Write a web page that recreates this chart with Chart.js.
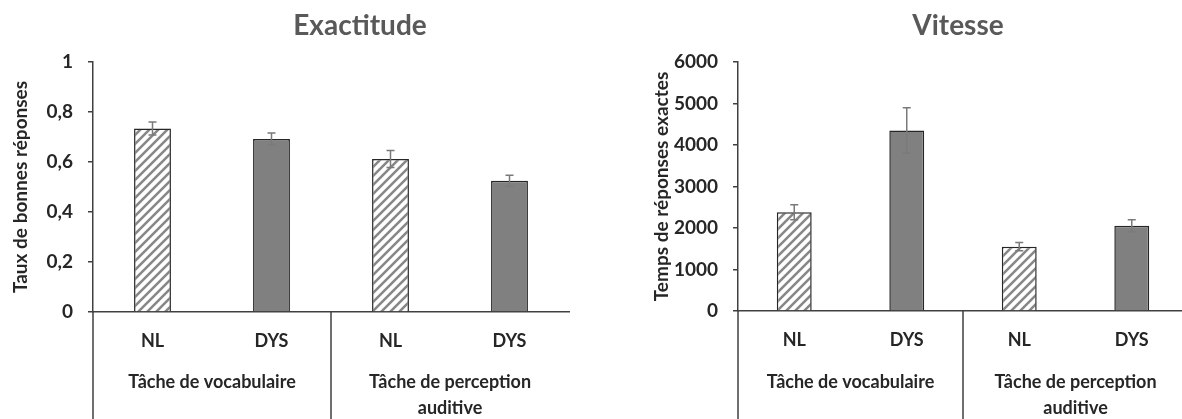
<!DOCTYPE html>
<html lang="fr">
<head>
<meta charset="utf-8">
<title>Exactitude et vitesse</title>
<script src="https://cdn.jsdelivr.net/npm/chart.js@4.4.1/dist/chart.umd.min.js"></script>
<style>
  html, body { margin: 0; padding: 0; background: #fff; overflow: hidden; }
  body { width: 1182px; height: 419px; position: relative; }
  .panel { position: absolute; top: 0; height: 419px; }
  #panel-acc { left: 0; width: 620px; }
  #panel-speed { left: 620px; width: 570px; }
</style>
</head>
<body>
<div class="panel" id="panel-acc"><canvas id="acc-chart"></canvas></div>
<div class="panel" id="panel-speed"><canvas id="speed-chart"></canvas></div>
<script>
/* ── data ─────────────────────────────────────────────── */
const groups = ['NL', 'DYS', 'NL', 'DYS'];
const tasks = [['Tâche de vocabulaire'], ['Tâche de perception', 'auditive']];

const accTitle = 'Exactitude';
const accAxisTitle = 'Taux de bonnes réponses';
const accValues = [0.734, 0.692, 0.612, 0.525];
const accErrors = [0.026, 0.024, 0.034, 0.022];
const accTicks = ['0', '0,2', '0,4', '0,6', '0,8', '1'];

const speedTitle = 'Vitesse';
const speedAxisTitle = 'Temps de réponses exactes';
const speedValues = [2380, 4350, 1550, 2055];
const speedErrors = [180, 550, 100, 145];
const speedTicks = ['0', '1000', '2000', '3000', '4000', '5000', '6000'];

/* ── styling ──────────────────────────────────────────── */
const INK = '#262626';
const AXIS = '#404040';
const GREY = '#808080';
const FONT = 'Lato';

function hatch() {
  const p = 9;
  const c = document.createElement('canvas');
  c.width = c.height = p;
  const g = c.getContext('2d');
  g.fillStyle = '#fff';
  g.fillRect(0, 0, p, p);
  g.strokeStyle = '#878787';
  g.lineWidth = 2.5;
  g.beginPath();
  g.moveTo(-2, p + 2); g.lineTo(p + 2, -2);
  g.moveTo(-2, 2); g.lineTo(2, -2);
  g.moveTo(p - 2, p + 2); g.lineTo(p + 2, p - 2);
  g.stroke();
  return g.createPattern(c, 'repeat');
}

// error bars, group labels under the axis, separators and chart title
const decor = {
  id: 'decor',
  afterDatasetsDraw(chart, args, opts) {
    const { ctx, scales: { y } } = chart;
    const meta = chart.getDatasetMeta(0);
    const data = chart.data.datasets[0].data;
    ctx.save();
    ctx.strokeStyle = '#7a7a7a';
    ctx.lineWidth = 1.5;
    opts.errors.forEach((e, i) => {
      const px = meta.data[i].x;
      const top = y.getPixelForValue(data[i] + e);
      const bot = y.getPixelForValue(data[i] - e);
      ctx.beginPath();
      ctx.moveTo(px, top); ctx.lineTo(px, bot);
      ctx.moveTo(px - 4, top); ctx.lineTo(px + 4, top);
      ctx.moveTo(px - 4, bot); ctx.lineTo(px + 4, bot);
      ctx.stroke();
    });
    ctx.restore();
  },
  afterDraw(chart, args, opts) {
    const { ctx, chartArea: a, scales: { x } } = chart;
    const h = chart.height;
    ctx.save();
    ctx.strokeStyle = AXIS;
    ctx.lineWidth = 1.5;
    const mid = (x.getPixelForValue(1) + x.getPixelForValue(2)) / 2;
    ctx.beginPath();
    ctx.moveTo(a.left, a.bottom); ctx.lineTo(a.left, h);
    ctx.moveTo(mid, a.bottom); ctx.lineTo(mid, h);
    ctx.stroke();

    ctx.fillStyle = INK;
    ctx.font = `bold 18px ${FONT}`;
    ctx.textAlign = 'center';
    ctx.textBaseline = 'alphabetic';
    tasks.forEach((lines, t) => {
      const cx = (x.getPixelForValue(t * 2) + x.getPixelForValue(t * 2 + 1)) / 2;
      lines.forEach((line, k) => ctx.fillText(line, cx, 388 + k * 26));
    });

    ctx.fillStyle = '#595959';
    ctx.font = `bold 28px ${FONT}`;
    ctx.fillText(opts.title, opts.titleX, 35);
    ctx.restore();
  }
};

function makeChart(id, values, errors, tickLabels, max, step, axisTitle, title, geo) {
  const pat = hatch();
  return new Chart(document.getElementById(id), {
    type: 'bar',
    data: {
      labels: groups,
      datasets: [{
        data: values,
        backgroundColor: values.map((v, i) => i % 2 === 0 ? pat : GREY),
        borderColor: '#262626',
        borderWidth: 1.5,
        barPercentage: 0.31,
        categoryPercentage: 1
      }]
    },
    options: {
      responsive: true,
      maintainAspectRatio: false,
      animation: false,
      layout: { padding: { top: 62, right: geo.padRight, left: 0, bottom: 0 } },
      plugins: {
        legend: { display: false },
        tooltip: { enabled: false },
        decor: { errors, title, titleX: geo.titleX }
      },
      scales: {
        x: {
          grid: { display: false, drawTicks: false },
          border: { color: AXIS, width: 1.5 },
          ticks: { padding: 18, color: INK, font: { family: FONT, weight: 'bold', size: 18 } },
          afterFit: s => { s.height = geo.xHeight; }
        },
        y: {
          min: 0,
          max,
          ticks: {
            stepSize: step,
            padding: 15,
            color: INK,
            font: { family: FONT, weight: 'bold', size: 19 },
            callback: (v, i) => tickLabels[i]
          },
          grid: { drawOnChartArea: false, drawTicks: true, tickLength: 5, color: AXIS, lineWidth: 1.5 },
          border: { color: AXIS, width: 1.5 },
          title: {
            display: true,
            text: axisTitle,
            color: INK,
            font: { family: FONT, weight: 'bold', size: 19 },
            padding: { top: geo.titlePad, bottom: 0 }
          },
          afterFit: s => { s.width = geo.yWidth; }
        }
      }
    },
    plugins: [decor]
  });
}

makeChart('acc-chart', accValues, accErrors, accTicks, 1, 0.2, accAxisTitle, accTitle,
  { padRight: 51, xHeight: 107, yWidth: 93, titlePad: 9, titleX: 360 });
makeChart('speed-chart', speedValues, speedErrors, speedTicks, 6000, 1000, speedAxisTitle, speedTitle,
  { padRight: 2, xHeight: 108, yWidth: 118, titlePad: 30, titleX: 338 });
</script>
</body>
</html>
